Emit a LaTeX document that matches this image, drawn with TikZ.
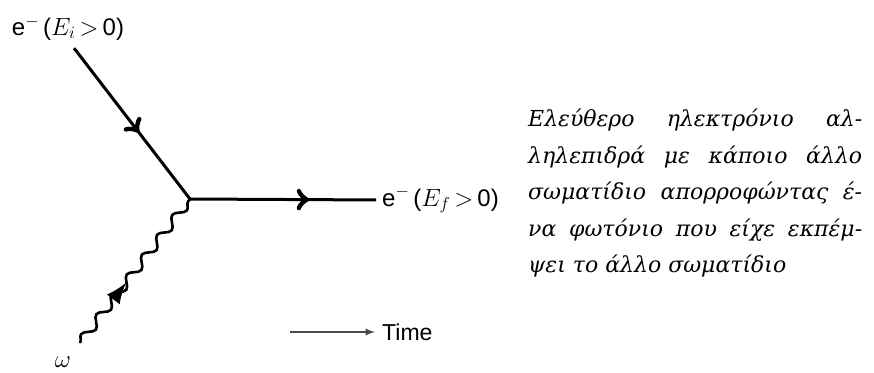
\documentclass[tikz,border=0pt]{standalone}
\usepackage{fontspec}
\setmainfont{Liberation Serif}
\setsansfont{Liberation Sans}
\newfontfamily\greekfont[Script=Greek]{DejaVu Serif}
\usetikzlibrary{arrows}
\usetikzlibrary{decorations.pathmorphing, decorations.markings, math}
\newcommand{\elab}[1]{\sffamily e$^{-}$\,($E_{#1}\,{>}\,$0)}

\begin{document}
\begin{tikzpicture}[x=1pt,y=-1pt,
  fermion/.style={line width=3, postaction={decorate},
    decoration={markings, mark=at position #1 with {\arrow[scale=1.8]{>}}}},
  photon/.style={line width=2.6, decorate,
    decoration={snake, amplitude=4.5, segment length=25}},
  phmark/.style={line width=2.6, postaction={decorate},
    decoration={markings, mark=at position 0.42 with {\arrow[scale=2]{latex}}}},
  lbl/.style={inner sep=0pt, font=\fontsize{24}{28}\selectfont}]
\tikzmath{
\W=874;
\H=372;
}
\useasboundingbox (0,0) rectangle (\W,\H);

%the vertex:
\coordinate (v) at (190,199);
\coordinate (phstart) at (80,343);
\coordinate (tstart) at (290,332);

%labels
\node[lbl] (ei) at (68,28) {\elab{i}};
\node[lbl, anchor=west] (ef) at (382,200) {\elab{f}};
\node[lbl] (om) at (63,362) {$\omega$};
\node[lbl, anchor=west, font=\sffamily\fontsize{23}{26}\selectfont] (time) at (382,332) {Time};

%electron and photon:
\draw[fermion=0.58, shorten <=10pt] (ei.south) -- (v);
\draw[fermion=0.62, shorten >=6pt] (v) -- (ef.west);
\draw[photon] (phstart) -- (v);
\path[phmark] (phstart) -- (v);
\draw[-latex, line width=2.2, color=black!70] (tstart) -- ([xshift=-7pt]time.west);

%the text:
\node[anchor=north west, inner sep=0pt, text width=334pt, align=justify,
  font=\greekfont\itshape\fontsize{22}{36.5}\selectfont] (txt) at (528,109)
  {Ελεύθερο ηλεκτρόνιο αλ-\linebreak ληλεπιδρά με κάποιο άλλο\linebreak
   σωματίδιο απορροφώντας έ-\linebreak να φωτόνιο που είχε εκπέμ-\linebreak ψει
   το άλλο σωματίδιο};
\end{tikzpicture}
\end{document}
